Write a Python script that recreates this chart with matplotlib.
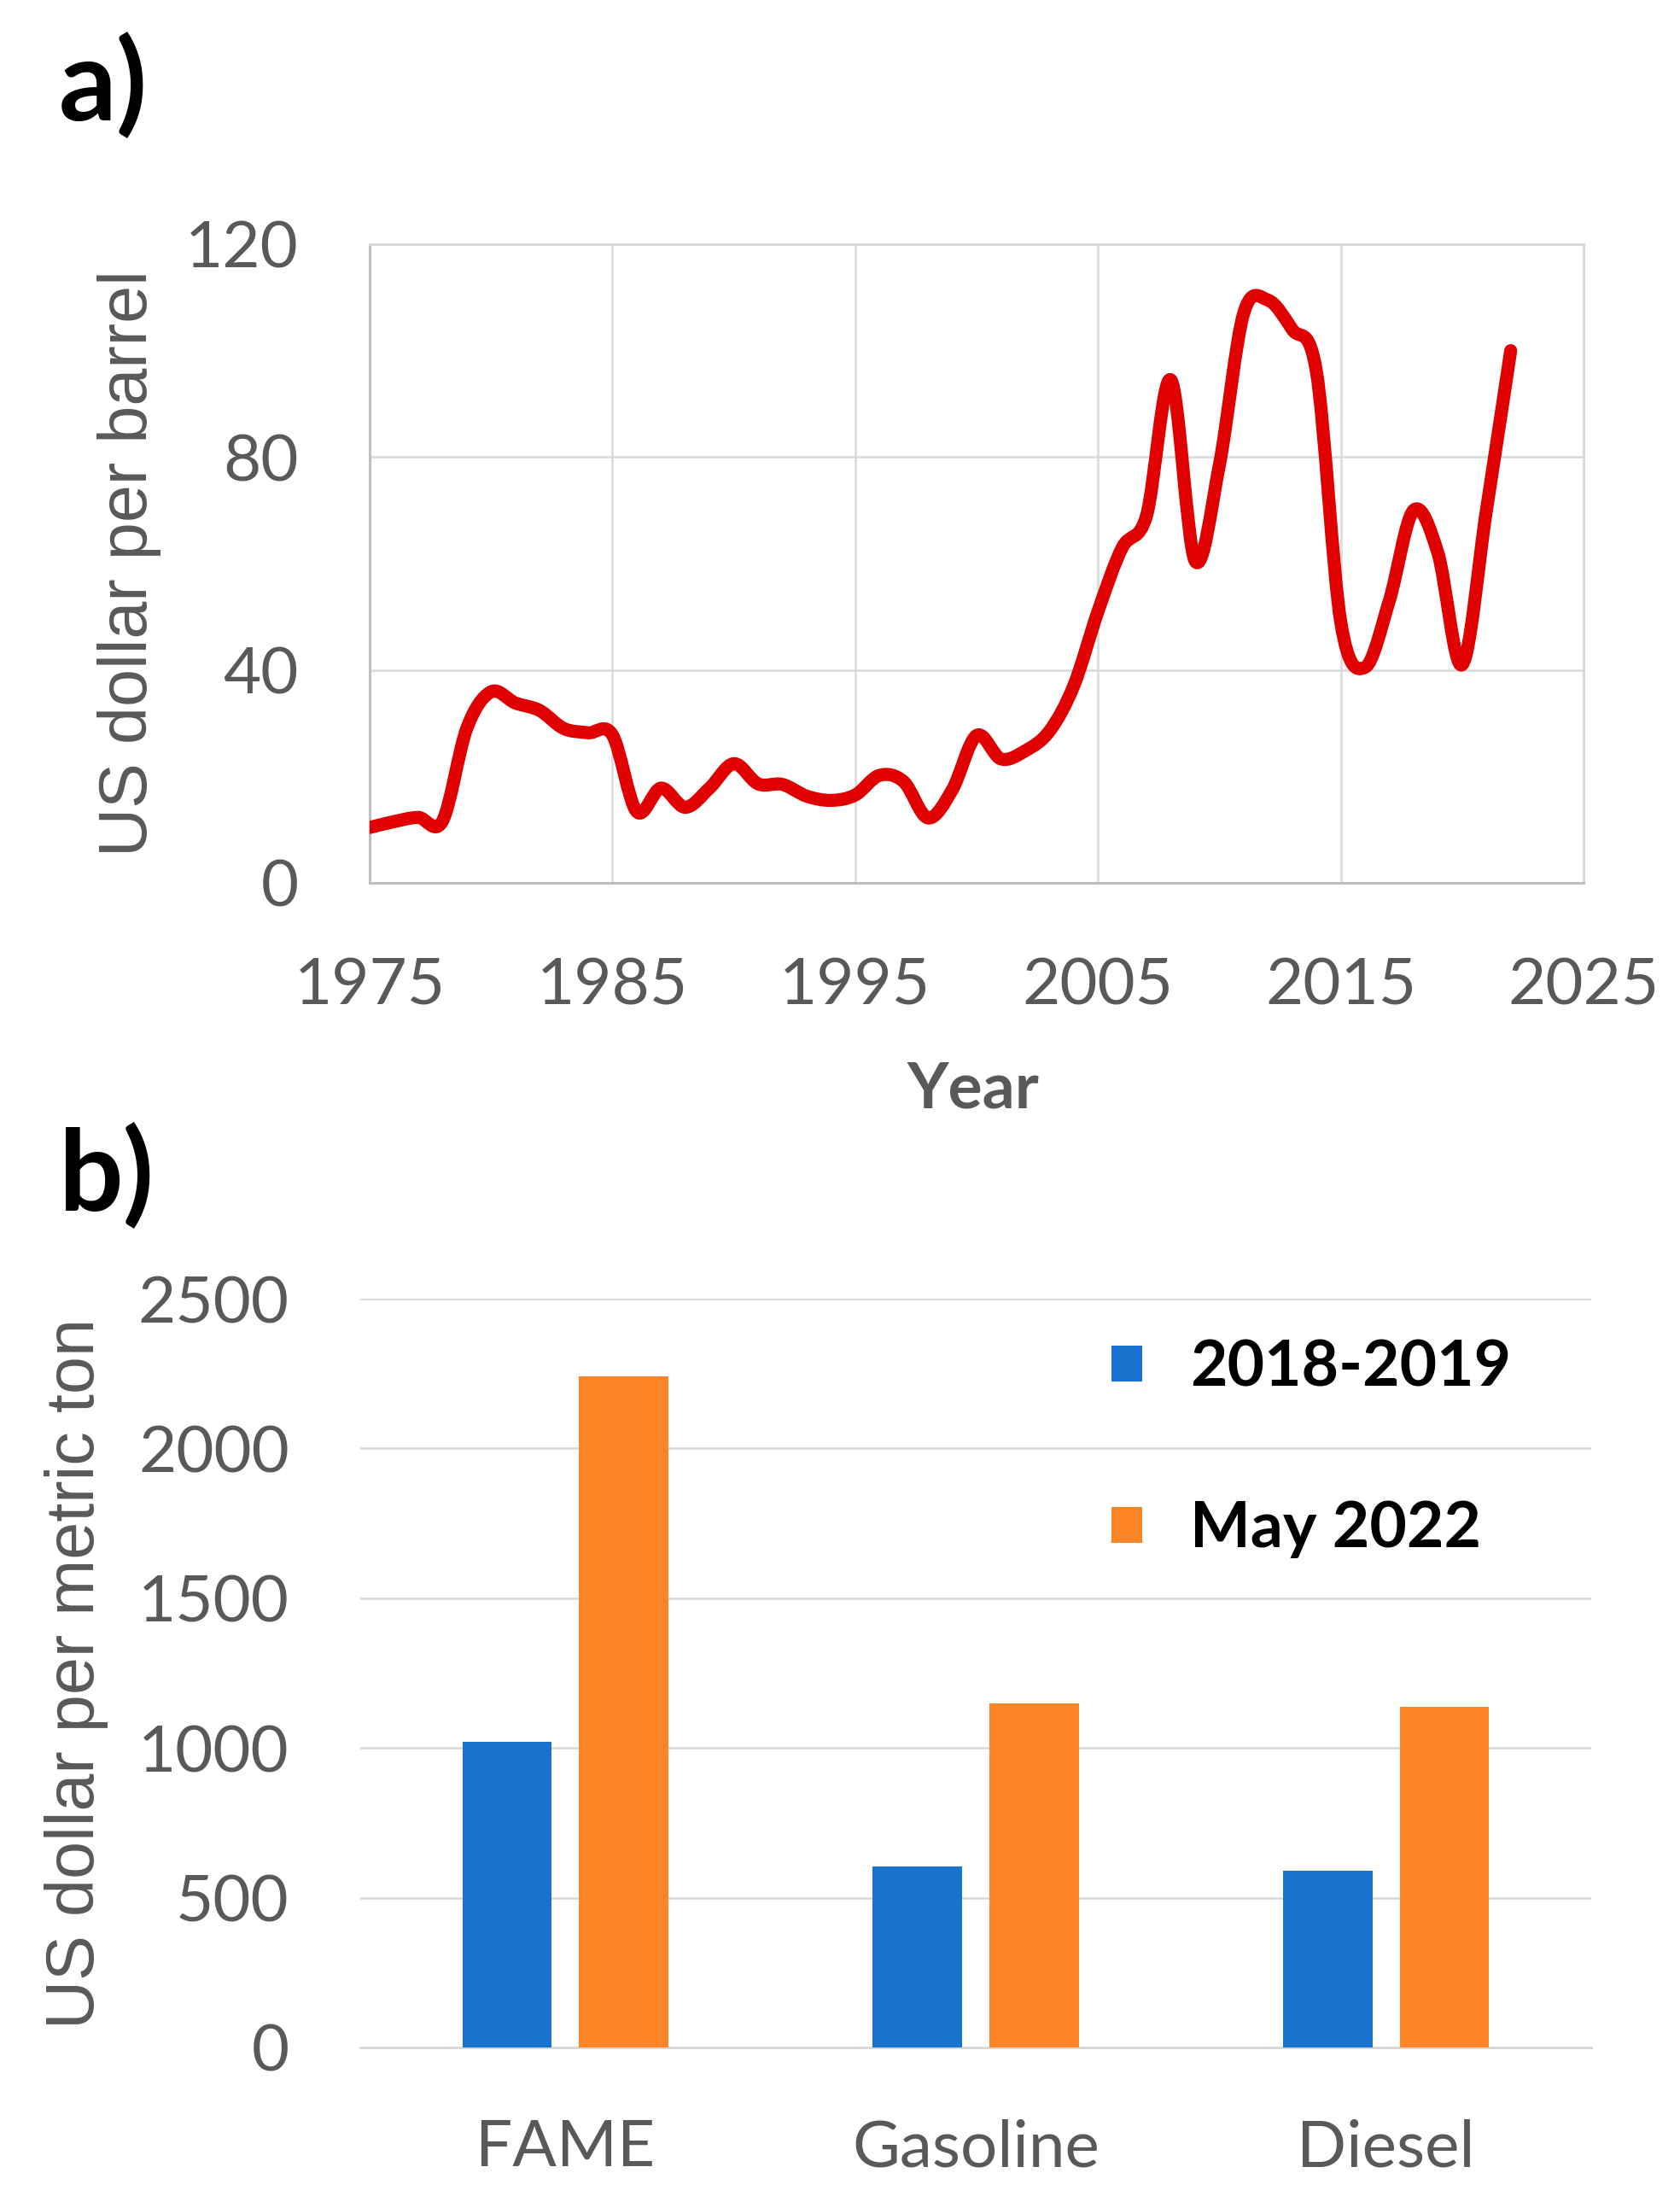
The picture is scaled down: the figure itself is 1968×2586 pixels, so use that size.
import matplotlib
matplotlib.use("Agg")
import matplotlib.pyplot as plt
import numpy as np
from matplotlib.path import Path
from matplotlib.patches import PathPatch

# crude oil, annual average (US$ per barrel)
years = list(range(1975, 2023))
oil_price = [10.4, 11.5, 12.3, 11.6, 29.0, 35.9, 33.8, 32.4, 29.0, 28.2,
             27.8, 13.4, 17.8, 14.2, 17.8, 22.4, 18.6, 18.5, 16.3, 15.5,
             16.5, 20.2, 19.0, 12.2, 17.5, 27.7, 23.3, 24.8, 28.5, 37.0,
             51.0, 63.0, 69.0, 94.5, 60.5, 78.5, 107.0, 109.5, 104.0, 96.0,
             49.0, 40.5, 53.0, 70.0, 62.0, 41.0, 70.0, 100.0]

fuels = ["FAME", "Gasoline", "Diesel"]
price_2018_2019 = [1020, 605, 590]
price_may_2022 = [2240, 1148, 1138]
series_labels = ["2018-2019", "May 2022"]

W, H = 1968, 2586
GREY = "#595959"
GRID = "#d9d9d9"

plt.rcParams['font.family'] = ['Lato', 'DejaVu Sans']
LABEL_FONT = ['Liberation Sans', 'DejaVu Sans']


def smooth_path(x, y):
    # excel style smoothed line: catmull-rom segments as cubic beziers
    x = np.asarray(x, float)
    y = np.asarray(y, float)
    n = len(x)
    verts = [(x[0], y[0])]
    codes = [Path.MOVETO]
    for i in range(n - 1):
        xa, ya = (x[i - 1], y[i - 1]) if i > 0 else (x[i], y[i])
        xb, yb = (x[i + 2], y[i + 2]) if i + 2 < n else (x[i + 1], y[i + 1])
        c1 = (x[i] + (x[i + 1] - xa) / 6, y[i] + (y[i + 1] - ya) / 6)
        c2 = (x[i + 1] - (xb - x[i]) / 6, y[i + 1] - (yb - y[i]) / 6)
        verts += [c1, c2, (x[i + 1], y[i + 1])]
        codes += [Path.CURVE4] * 3
    return Path(verts, codes)


def box(left, top, right, bottom):
    return [left / W, 1 - bottom / H, (right - left) / W, (bottom - top) / H]


fig = plt.figure(figsize=(W / 100, H / 100), dpi=100)

# ---- a) oil price line
ax1 = fig.add_axes(box(433, 286, 1855, 1034))
ax1.add_patch(PathPatch(smooth_path(years, oil_price), fill=False,
                        edgecolor="#e00000", lw=11, capstyle='round',
                        joinstyle='round', zorder=3))
ax1.set_xlim(1975, 2025)
ax1.set_ylim(0, 120)
ax1.set_xticks(range(1975, 2026, 10))
ax1.set_yticks(range(0, 121, 40))
ax1.grid(color=GRID, lw=1.8)
ax1.set_axisbelow(True)
for side, sp in ax1.spines.items():
    sp.set_color("#bfbfbf" if side in ("left", "bottom") else GRID)
    sp.set_linewidth(2.2)
ax1.tick_params(axis='x', labelsize=55, labelcolor=GREY, length=0, pad=62)
ax1.tick_params(axis='y', labelsize=55, labelcolor=GREY, length=0, pad=60)

fig.text(152 / W, 1 - 660 / H, "US dollar per barrel", rotation=90,
         ha='center', va='center', fontsize=57, color=GREY, family=LABEL_FONT)
fig.text(1140 / W, 1 - 1276 / H, "Year", ha='center', va='center',
         fontsize=54, fontweight='bold', color=GREY)
fig.text(69 / W, 1 - 101 / H, "a)", ha='left', va='center',
         fontsize=96, fontweight='bold', color='black')

# ---- b) fuel prices bars
ax2 = fig.add_axes(box(422, 1521, 1864, 2398))
x = np.arange(len(fuels))
bw = 0.218
ax2.bar(x - 0.142, price_2018_2019, bw, color="#1a72cf", label=series_labels[0], zorder=3)
ax2.bar(x + 0.142, price_may_2022, bw, color="#fd8427", label=series_labels[1], zorder=3)
ax2.set_xlim(-0.5, 2.5)
ax2.set_ylim(0, 2500)
ax2.set_yticks(range(0, 2501, 500))
ax2.set_xticks(x)
ax2.set_xticklabels(fuels)
ax2.yaxis.grid(True, color=GRID, lw=1.8)
ax2.set_axisbelow(True)
for side in ("left", "right", "top"):
    ax2.spines[side].set_visible(False)
ax2.spines["bottom"].set_color(GRID)
ax2.spines["bottom"].set_linewidth(2.2)
ax2.tick_params(axis='x', labelsize=55, labelcolor=GREY, length=0, pad=60)
ax2.tick_params(axis='y', labelsize=55, labelcolor=GREY, length=0, pad=60)

leg = ax2.legend(loc='upper left', bbox_to_anchor=(0.61, 0.947), frameon=False,
                 prop={'size': 54, 'weight': 'bold'}, handlelength=0.48,
                 handleheight=0.48, handletextpad=0.75, labelspacing=1.6,
                 borderpad=0, borderaxespad=0)

fig.text(90 / W, 1 - 1960 / H, "US dollar per metric ton", rotation=90,
         ha='center', va='center', fontsize=57, color=GREY, family=LABEL_FONT)
fig.text(69 / W, 1 - 1378 / H, "b)", ha='left', va='center',
         fontsize=96, fontweight='bold', color='black')

fig.savefig("out.png", dpi=100, facecolor='white')
